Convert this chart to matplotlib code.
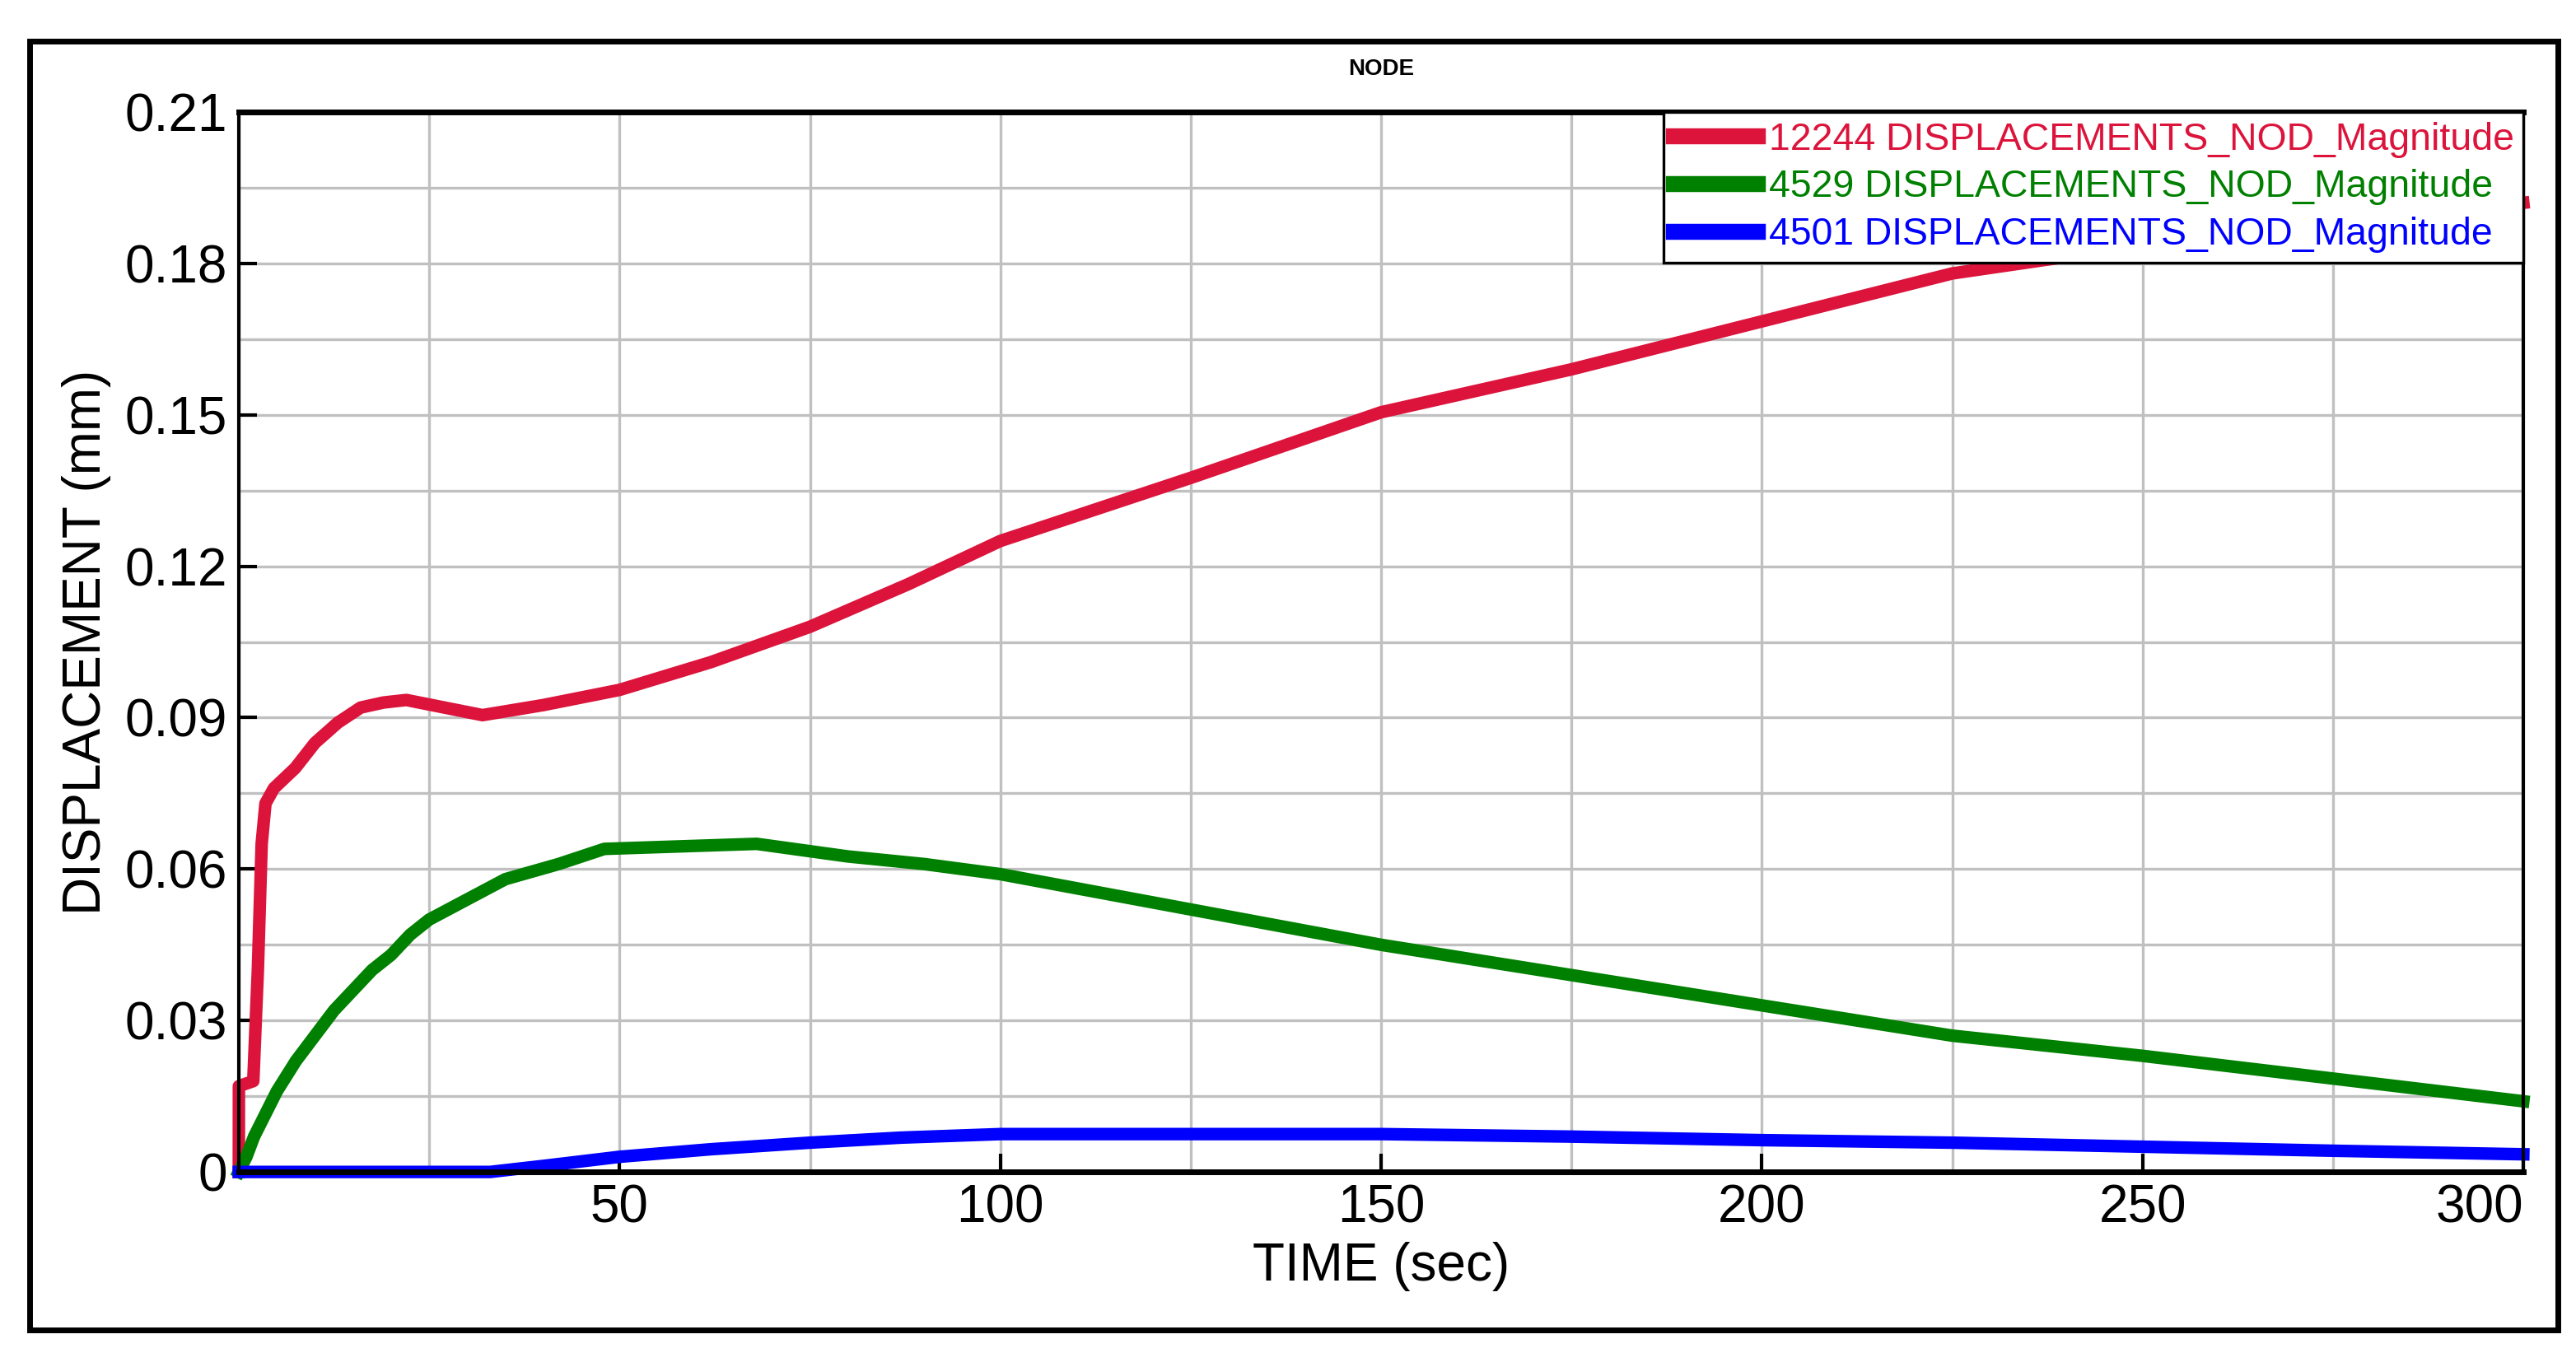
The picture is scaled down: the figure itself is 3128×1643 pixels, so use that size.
import matplotlib
matplotlib.use("Agg")
import matplotlib.pyplot as plt
from matplotlib.patches import Rectangle
from matplotlib.ticker import MultipleLocator

plt.rcParams['font.family'] = ['Liberation Sans', 'DejaVu Sans']

# values
t_red = [0, 0.01, 1.9, 2.5, 3.0, 3.5, 4.6, 7.4, 10, 13, 16, 19, 22, 27, 32, 40, 50, 62, 75, 88, 100, 125, 150, 175, 200, 225, 250, 275, 300]
y_red = [0, 0.017, 0.018, 0.040, 0.065, 0.073, 0.076, 0.080, 0.085, 0.089, 0.092, 0.093, 0.0935, 0.092, 0.0905, 0.0925, 0.0955, 0.101, 0.108, 0.1165, 0.125, 0.1375, 0.1505, 0.159, 0.1685, 0.178, 0.1835, 0.188, 0.192]

t_green = [0, 1, 2, 3, 5, 7.5, 10, 12.5, 15, 17.5, 20, 22.5, 25, 30, 35, 42, 48, 58, 68, 80, 90, 100, 125, 150, 175, 200, 225, 250, 275, 300]
y_green = [0, 0.003, 0.007, 0.010, 0.016, 0.022, 0.027, 0.032, 0.036, 0.040, 0.043, 0.047, 0.050, 0.054, 0.058, 0.061, 0.064, 0.0645, 0.065, 0.0625, 0.061, 0.059, 0.052, 0.045, 0.039, 0.033, 0.027, 0.023, 0.0185, 0.014]

t_blue = [0, 33, 40, 50, 62, 75, 87, 100, 125, 150, 175, 200, 225, 250, 275, 300]
y_blue = [0, 0, 0.0012, 0.003, 0.0045, 0.0058, 0.0068, 0.0075, 0.0075, 0.0075, 0.0070, 0.0063, 0.0058, 0.0050, 0.0042, 0.0035]

labels = ['12244 DISPLACEMENTS_NOD_Magnitude',
          '4529 DISPLACEMENTS_NOD_Magnitude',
          '4501 DISPLACEMENTS_NOD_Magnitude']
colors = ['#dc143c', '#008000', '#0000ff']

fig = plt.figure(figsize=(15.64, 8.215), dpi=200)
fig.patches.append(Rectangle((18 / 1564, 1 - 808 / 822), (1553 - 18) / 1564, (808 - 25) / 822,
                             transform=fig.transFigure, fill=False, edgecolor='black', linewidth=2.5))
ax = fig.add_axes([145 / 1564, 1 - 712 / 822, (1532 - 145) / 1564, (712 - 68) / 822])

for t, y, c, lab in zip([t_red, t_green, t_blue], [y_red, y_green, y_blue], colors, labels):
    ax.plot(t, y, color=c, linewidth=5.5, label=lab, clip_on=False)

ax.set_xlim(0, 300)
ax.set_ylim(0, 0.21)
ax.xaxis.set_minor_locator(MultipleLocator(25))
ax.yaxis.set_minor_locator(MultipleLocator(0.015))
ax.set_xticks([50, 100, 150, 200, 250, 300])
ax.set_yticks([0, 0.03, 0.06, 0.09, 0.12, 0.15, 0.18, 0.21])
ax.set_yticklabels(['0', '0.03', '0.06', '0.09', '0.12', '0.15', '0.18', '0.21'])
ax.grid(True, which='both', color='#c0c0c0', linewidth=1.2)
ax.set_axisbelow(True)
ax.tick_params(which='major', direction='in', length=8, width=1.5, labelsize=23, pad=5)
ax.tick_params(which='minor', length=0)
for s in ax.spines.values():
    s.set_linewidth(1.5)
ax.spines['top'].set_linewidth(2.5)
ax.spines['bottom'].set_linewidth(2.5)
for lbl in ax.get_xticklabels()[-1:]:
    lbl.set_horizontalalignment('right')
    lbl.set_x(300)

ax.set_xlabel('TIME (sec)', fontsize=23, labelpad=4)
ax.set_ylabel('DISPLACEMENT (mm)', fontsize=23, labelpad=6)
ax.set_title('NODE', fontsize=10, fontweight='bold', pad=16)

leg = ax.legend(loc='upper right', fontsize=16.7, frameon=True, fancybox=False, borderaxespad=0,
                handlelength=2.2, handletextpad=0.3, labelspacing=0.3, borderpad=0.25)
leg.get_frame().set_edgecolor('black')
leg.get_frame().set_linewidth(1.2)
leg.get_frame().set_alpha(1)
leg.set_zorder(5)
for txt, c in zip(leg.get_texts(), colors):
    txt.set_color(c)
for line in leg.get_lines():
    line.set_linewidth(7)

fig.savefig('out.png', dpi=200)
